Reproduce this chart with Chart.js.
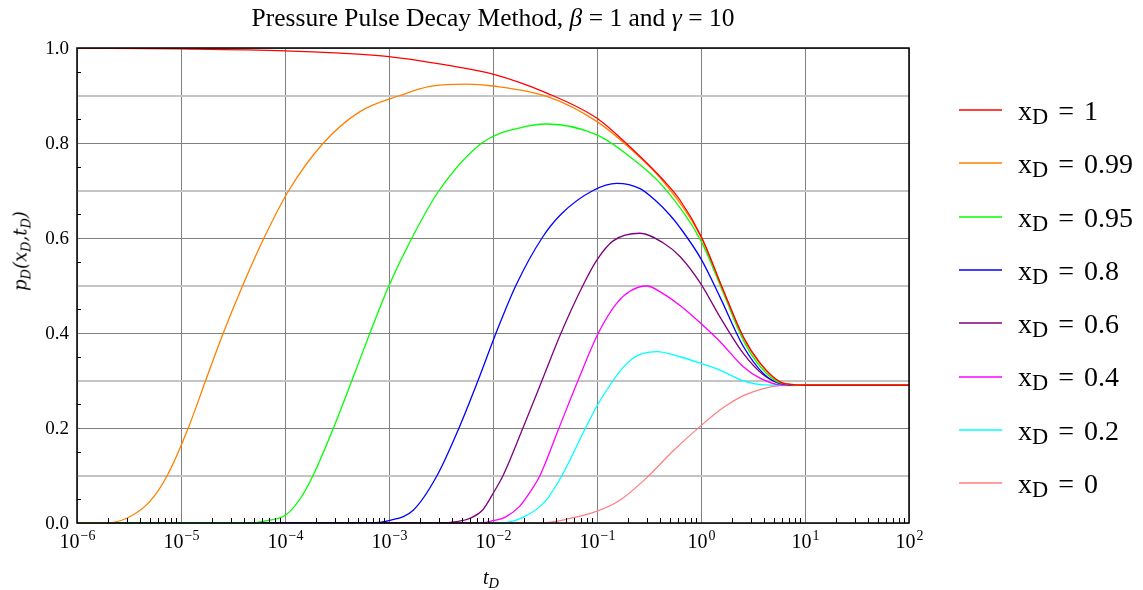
<!DOCTYPE html>
<html>
<head>
<meta charset="utf-8">
<script src="https://cdn.jsdelivr.net/npm/chart.js@4.4.1/dist/chart.umd.min.js"></script>
<style>
  body { margin: 0; background: #fff; }
  #wrap { position: relative; width: 1143px; height: 590px; font-family: "Liberation Serif", "Times New Roman", serif; color: #000; }
  #chart { position: absolute; left: 0; top: 0; }
  .title { position: absolute; top: 3px; left: 0; width: 986px; text-align: center; font-size: 25.5px; white-space: nowrap; }
  .xtitle { position: absolute; left: 483px; top: 566px; font-size: 20px; font-style: italic; }
  .ytitle { position: absolute; left: 20px; top: 251px; font-size: 18px; font-style: italic; white-space: nowrap;
            font-family: "DejaVu Serif", serif; transform: translate(-50%, -50%) rotate(-90deg); }
  sub { font-size: 0.72em; vertical-align: -0.3em; line-height: 0; }
  .lg { position: absolute; left: 959px; height: 0; display: flex; align-items: center; white-space: nowrap; }
  .lg .sw { width: 43px; height: 2px; margin-right: 16px; }
  .lg .tx { font-size: 28px; line-height: 0; position: relative; top: 4px; word-spacing: 3px; }
  .lg sub { font-size: 0.8em; vertical-align: -0.18em; }
</style>
</head>
<body>
<div id="wrap">
  <canvas id="chart" width="1143" height="590"></canvas>
  <div class="title">Pressure Pulse Decay Method, <i>β</i> = 1 and <i>γ</i> = 10</div>
  <div class="ytitle">p<sub>D</sub>(x<sub>D</sub>,t<sub>D</sub>)</div>
  <div class="xtitle">t<sub>D</sub></div>
</div>
<script>
// values (grid crossings where possible), t_D on a log axis
const tD_100 = [1e-6, 1e-5, 1e-4, 3.4e-4, 1e-3, 3.6e-3, 1e-2, 3.3e-2, 0.1, 0.207, 0.434, 0.628, 1, 1.64, 2.55, 3.69, 5.75, 8, 10, 100];
const pD_100 = [1.0, 0.998, 0.994, 0.989, 0.982, 0.964, 0.945, 0.905, 0.852, 0.792, 0.722, 0.68, 0.604, 0.49, 0.392, 0.337, 0.297, 0.291, 0.29, 0.29];

const tD_099 = [1e-6, 1.86e-6, 3.01e-6, 5e-6, 7.38e-6, 1.175e-5, 1.727e-5, 2.55e-5, 3.92e-5, 6.28e-5, 1.087e-4, 2.34e-4, 5.26e-4, 1.28e-3, 2.48e-3, 5.6e-3, 1e-2, 3.3e-2, 0.1, 0.207, 0.434, 1, 1.64, 2.55, 3.69, 5.75, 10, 100];
const pD_099 = [0, 0, 0.01, 0.045, 0.1, 0.2, 0.3, 0.4, 0.5, 0.6, 0.7, 0.8, 0.866, 0.9, 0.919, 0.924, 0.92, 0.898, 0.845, 0.789, 0.719, 0.602, 0.489, 0.391, 0.336, 0.297, 0.29, 0.29];

const tD_095 = [1e-6, 4.6e-5, 6.7e-5, 1.016e-4, 1.39e-4, 1.86e-4, 2.92e-4, 4.4e-4, 6.56e-4, 1e-3, 1.66e-3, 3.03e-3, 7.83e-3, 1.82e-2, 3.3e-2, 0.1, 0.207, 0.434, 1, 1.64, 2.55, 3.69, 5.75, 10, 100];
const pD_095 = [0, 0, 0.005, 0.017, 0.05, 0.1, 0.2, 0.3, 0.4, 0.5, 0.6, 0.7, 0.8, 0.832, 0.84, 0.817, 0.771, 0.708, 0.594, 0.484, 0.385, 0.33, 0.295, 0.29, 0.29];

const tD_080 = [1e-6, 6.56e-4, 1e-3, 1.71e-3, 2.9e-3, 4.71e-3, 7.18e-3, 1.07e-2, 1.66e-2, 2.96e-2, 4.51e-2, 9.16e-2, 0.155, 0.259, 0.361, 0.504, 0.628, 1, 1.52, 2.55, 3.97, 5.75, 10, 100];
const pD_080 = [0, 0, 0.005, 0.027, 0.1, 0.2, 0.3, 0.4, 0.5, 0.6, 0.65, 0.7, 0.715, 0.704, 0.68, 0.648, 0.622, 0.556, 0.476, 0.372, 0.315, 0.294, 0.29, 0.29];

const tD_060 = [1e-6, 3.09e-3, 4.48e-3, 6.01e-3, 8.0e-3, 1e-2, 1.25e-2, 1.94e-2, 2.96e-2, 4.51e-2, 7.32e-2, 0.1, 0.143, 0.259, 0.431, 0.628, 1, 1.52, 2.55, 3.97, 5.75, 10, 100];
const pD_060 = [0, 0, 0.003, 0.01, 0.028, 0.062, 0.1, 0.2, 0.3, 0.4, 0.5, 0.554, 0.594, 0.61, 0.59, 0.561, 0.503, 0.434, 0.357, 0.312, 0.294, 0.29, 0.29];

const tD_040 = [1e-6, 7.5e-3, 1e-2, 1.3e-2, 1.8e-2, 2.27e-2, 2.83e-2, 4.31e-2, 6.57e-2, 0.103, 0.155, 0.207, 0.30, 0.431, 0.628, 1, 1.52, 2.55, 3.69, 5.75, 10, 100];
const pD_040 = [0, 0, 0.005, 0.012, 0.035, 0.065, 0.1, 0.2, 0.3, 0.4, 0.463, 0.488, 0.499, 0.483, 0.458, 0.42, 0.382, 0.329, 0.305, 0.291, 0.29, 0.29];

const tD_020 = [1e-6, 1.17e-2, 1.94e-2, 3.16e-2, 4.6e-2, 7.75e-2, 0.102, 0.133, 0.174, 0.222, 0.277, 0.378, 0.628, 1, 1.52, 2.55, 3.97, 10, 100];
const pD_020 = [0, 0, 0.012, 0.045, 0.1, 0.2, 0.25, 0.29, 0.325, 0.347, 0.357, 0.361, 0.35, 0.336, 0.322, 0.299, 0.291, 0.29, 0.29];

const tD_000 = [1e-6, 1.46e-2, 3.23e-2, 5.11e-2, 0.1, 0.166, 0.30, 0.541, 1, 1.64, 2.55, 3.97, 5.75, 8.95, 100];
const pD_000 = [0, 0, 0.001, 0.008, 0.025, 0.048, 0.095, 0.152, 0.205, 0.243, 0.268, 0.283, 0.289, 0.29, 0.29];

const xDLabels = ['1', '0.99', '0.95', '0.8', '0.6', '0.4', '0.2', '0'];
const xTickExponents = [-6, -5, -4, -3, -2, -1, 0, 1, 2];
const yTickLabels = ['0.0', '0.2', '0.4', '0.6', '0.8', '1.0'];

const seriesT = [tD_100, tD_099, tD_095, tD_080, tD_060, tD_040, tD_020, tD_000];
const seriesP = [pD_100, pD_099, pD_095, pD_080, pD_060, pD_040, pD_020, pD_000];
const lineColors = ['#ff0000', '#ff8000', '#00ff00', '#0000ff', '#800080', '#ff00ff', '#00ffff', '#ff8080'];

const serif = '"Liberation Serif", "Times New Roman", serif';

// frame, minor ticks and 10^n labels
const axisDecor = {
    id: 'axisDecor',
    afterDatasetsDraw(chart) {
        const { ctx, chartArea: a, scales: { x, y } } = chart;
        ctx.save();
        ctx.strokeStyle = '#000';
        ctx.lineWidth = 1;
        ctx.beginPath();
        for (let e = xTickExponents[0]; e < xTickExponents[xTickExponents.length - 1]; e++) {
            for (let k = 2; k < 10; k++) {
                const px = Math.round(x.getPixelForValue(k * Math.pow(10, e))) + 0.5;
                ctx.moveTo(px, a.bottom);
                ctx.lineTo(px, a.bottom - 5);
            }
        }
        for (let i = 0; i < 10; i++) {
            const py = Math.round(y.getPixelForValue(0.05 + i * 0.1)) + 0.5;
            ctx.moveTo(a.left, py);
            ctx.lineTo(a.left + 4, py);
        }
        ctx.stroke();

        ctx.lineWidth = 1.5;
        ctx.strokeRect(a.left, a.top, a.right - a.left, a.bottom - a.top);

        // y labels
        ctx.fillStyle = '#000';
        ctx.font = '19px ' + serif;
        ctx.textAlign = 'right';
        ctx.textBaseline = 'middle';
        yTickLabels.forEach(label => {
            ctx.fillText(label, a.left - 8, y.getPixelForValue(parseFloat(label)) + 1);
        });

        // x labels as 10 with a raised exponent
        ctx.textAlign = 'left';
        ctx.textBaseline = 'alphabetic';
        xTickExponents.forEach(e => {
            const base = '10';
            const sup = e < 0 ? '\u2212' + (-e) : String(e);
            ctx.font = '20px ' + serif;
            const wb = ctx.measureText(base).width;
            ctx.font = '14px ' + serif;
            const ws = ctx.measureText(sup).width;
            const px = x.getPixelForValue(Math.pow(10, e));
            const x0 = px - (wb + ws) / 2;
            ctx.font = '20px ' + serif;
            ctx.fillText(base, x0, a.bottom + 25);
            ctx.font = '14px ' + serif;
            ctx.fillText(sup, x0 + wb + 1, a.bottom + 17);
        });
        ctx.restore();
    }
};

const ctx = document.getElementById('chart').getContext('2d');
const pulseChart = new Chart(ctx, {
    type: 'line',
    data: {
        datasets: seriesT.map((t, i) => ({
            label: 'xD = ' + xDLabels[i],
            data: t.map((v, j) => ({ x: v, y: seriesP[i][j] })),
            borderColor: lineColors[i],
            borderWidth: 1.3,
            pointRadius: 0,
            fill: false,
            cubicInterpolationMode: 'monotone'
        }))
    },
    options: {
        responsive: false,
        animation: false,
        layout: {
            padding: { left: 77, right: 234, top: 48, bottom: 67 }
        },
        plugins: {
            legend: { display: false },
            tooltip: { enabled: false }
        },
        scales: {
            x: {
                type: 'logarithmic',
                min: 1e-6,
                max: 1e2,
                afterBuildTicks: scale => {
                    scale.ticks = xTickExponents.map(e => ({ value: Math.pow(10, e) }));
                },
                ticks: { display: false },
                grid: { drawTicks: false, color: '#808080', lineWidth: 1 },
                border: { display: false }
            },
            y: {
                min: 0,
                max: 1,
                ticks: { display: false, stepSize: 0.1 },
                grid: {
                    drawTicks: false,
                    color: c => Math.round(c.tick.value * 10) % 2 ? '#c4c4c4' : '#808080',
                    lineWidth: c => Math.round(c.tick.value * 10) % 2 ? 2 : 1
                },
                border: { display: false }
            }
        }
    },
    plugins: [axisDecor]
});

// legend with subscripts, built from the series
const wrap = document.getElementById('wrap');
xDLabels.forEach((label, i) => {
    const row = document.createElement('div');
    row.className = 'lg';
    row.style.top = (110 + i * 53.3) + 'px';
    row.innerHTML = '<span class="sw" style="background:' + lineColors[i] + ';opacity:0.75"></span>' +
        '<span class="tx">x<sub>D</sub> = ' + label + '</span>';
    wrap.appendChild(row);
});
</script>
</body>
</html>
